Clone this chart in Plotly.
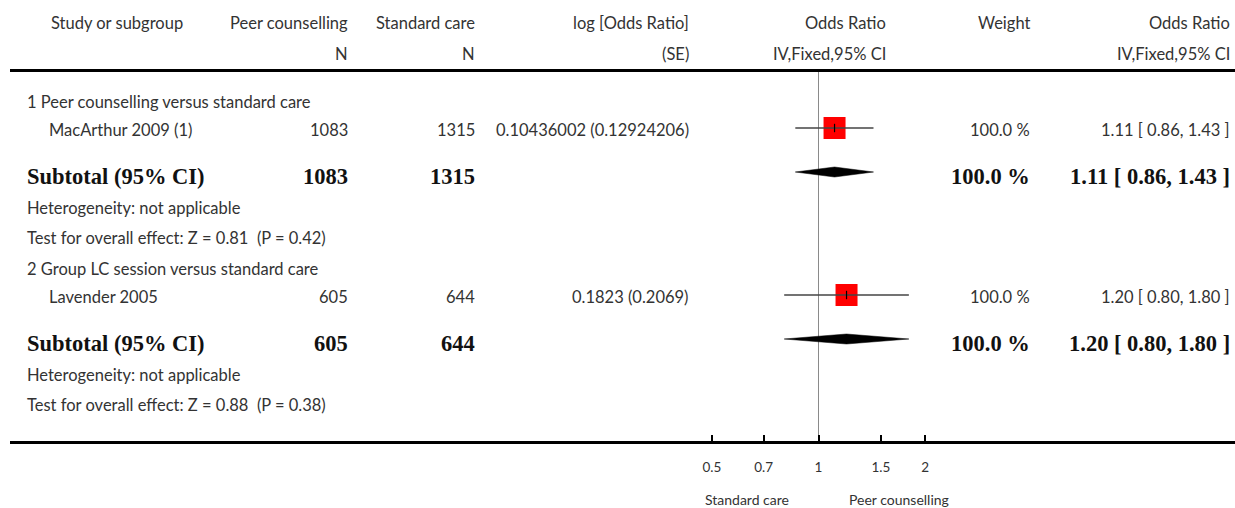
import math
import plotly.graph_objects as go

# ---- data -------------------------------------------------------------
subgroups = ["1 Peer counselling versus standard care",
             "2 Group LC session versus standard care"]
studies = ["MacArthur 2009 (1)", "Lavender 2005"]
n_peer = [1083, 605]
n_std = [1315, 644]
log_or = ["0.10436002", "0.1823"]
log_se = ["0.12924206", "0.2069"]
weight = [100.0, 100.0]
odds_ratio = [1.11, 1.20]
ci_low = [0.86, 0.80]
ci_high = [1.43, 1.80]
z_value = [0.81, 0.88]
p_value = [0.42, 0.38]
tick_vals = [0.5, 0.7, 1, 1.5, 2]
tick_text = ["0.5", "0.7", "1", "1.5", "2"]

# ---- layout constants (pixels) ----------------------------------------
W, H = 1235, 508
PLOT_TOP, PLOT_BOTTOM = 72, 441
X_LEFT = 10
X_ONE = 818.5          # pixel position of OR = 1
PX_PER_DECADE = 354.0
BLOCK_START = [102, 269]
ROW_OFFSETS = [0, 28, 74, 106, 136]   # subgroup, study, subtotal, heterogeneity, test

SANS = "Lato"
SERIF = "Liberation Serif"
TXT = "#333333"
BOLD = "#111111"
FS = 16.5
FB = 22.5


def px(x):
    return x / W


def py(y):
    return 1 - y / H


fig = go.Figure()
ann = []


def text(x, y, s, anchor="left", size=FS, family=SANS, color=TXT, yref="y"):
    # compensate annotation box padding so the glyph edges land on x
    shift = {"left": -2, "right": 2, "center": 0}[anchor]
    ann.append(dict(x=px(x + shift), y=(y if yref == "y" else py(y)), xref="paper", yref=yref,
                    text=s, showarrow=False, xanchor=anchor, yanchor="middle",
                    font=dict(family=family, size=size, color=color)))


# header
for x, top, bottom in [(117, "Study or subgroup", None),
                       (348, "Peer counselling", "N"),
                       (475, "Standard care", "N"),
                       (689, "log [Odds Ratio]", "(SE)"),
                       (886, "Odds Ratio", "IV,Fixed,95% CI"),
                       (1030, "Weight", None),
                       (1230, "Odds Ratio", "IV,Fixed,95% CI")]:
    anchor = "center" if x == 117 else "right"
    text(x, 23, top, anchor, yref="paper")
    if bottom:
        text(x, 54, bottom, anchor, yref="paper")

# reference line at OR = 1
fig.add_trace(go.Scatter(x=[1, 1], y=[PLOT_TOP, PLOT_BOTTOM], mode="lines",
                         line=dict(color="#8a8a8a", width=1), hoverinfo="skip"))

for i in range(len(studies)):
    rows = [BLOCK_START[i] + o for o in ROW_OFFSETS]
    y_sub, y_study, y_tot, y_het, y_test = rows
    or_txt = f"{odds_ratio[i]:.2f} [ {ci_low[i]:.2f}, {ci_high[i]:.2f} ]"
    w_txt = f"{weight[i]:.1f} %"

    text(27, y_sub, subgroups[i])
    text(49, y_study, studies[i])
    text(348, y_study, str(n_peer[i]), "right")
    text(475, y_study, str(n_std[i]), "right")
    text(689, y_study, f"{log_or[i]} ({log_se[i]})", "right")
    text(1030, y_study, w_txt, "right")
    text(1230, y_study, or_txt, "right")

    text(27, y_tot, "<b>Subtotal (95% CI)</b>", size=FB, family=SERIF, color=BOLD)
    text(348, y_tot, f"<b>{n_peer[i]}</b>", "right", size=FB, family=SERIF, color=BOLD)
    text(475, y_tot, f"<b>{n_std[i]}</b>", "right", size=FB, family=SERIF, color=BOLD)
    text(1030, y_tot, f"<b>{w_txt}</b>", "right", size=FB, family=SERIF, color=BOLD)
    text(1230, y_tot, f"<b>{or_txt}</b>", "right", size=FB, family=SERIF, color=BOLD)

    text(27, y_het, "Heterogeneity: not applicable")
    text(27, y_test, f"Test for overall effect: Z = {z_value[i]:.2f}  (P = {p_value[i]:.2f})")

    ym = y_study - 2
    # study square (weight) with CI whisker on top
    fig.add_trace(go.Scatter(x=[odds_ratio[i]], y=[ym], mode="markers",
                             marker=dict(symbol="square", size=22, color="#ff0000",
                                         line=dict(width=0)), hoverinfo="skip"))
    fig.add_trace(go.Scatter(x=[ci_low[i], ci_high[i]], y=[ym, ym], mode="lines",
                             line=dict(color="#444444", width=1.5), hoverinfo="skip"))
    fig.add_trace(go.Scatter(x=[odds_ratio[i]], y=[ym], mode="markers",
                             marker=dict(symbol="line-ns", size=6,
                                         line=dict(color="#000000", width=1.2)),
                             hoverinfo="skip"))
    # pooled diamond
    yd = y_tot - 4
    fig.add_trace(go.Scatter(x=[ci_low[i], odds_ratio[i], ci_high[i], odds_ratio[i], ci_low[i]],
                             y=[yd, yd - 5, yd, yd + 5, yd], mode="lines", fill="toself",
                             fillcolor="#000000", line=dict(color="#000000", width=0.5),
                             hoverinfo="skip"))

text(747, 499, "Standard care", "center", size=14, yref="paper")
text(899, 499, "Peer counselling", "center", size=14, yref="paper")

x_lo = (X_LEFT - X_ONE) / PX_PER_DECADE
x_hi = (W - X_ONE) / PX_PER_DECADE

fig.update_layout(
    width=W, height=H, margin=dict(l=0, r=0, t=0, b=0),
    paper_bgcolor="white", plot_bgcolor="white", showlegend=False,
    annotations=ann,
    xaxis=dict(type="log", domain=[px(X_LEFT), 1], range=[x_lo, x_hi],
               showgrid=False, zeroline=False, showline=True, mirror=True,
               linecolor="#000000", linewidth=3,
               ticks="inside", ticklen=6, tickwidth=2, tickcolor="#000000",
               tickvals=tick_vals, ticktext=tick_text, ticklabelstandoff=12,
               tickfont=dict(family=SANS, size=13.5, color=TXT)),
    yaxis=dict(domain=[1 - PLOT_BOTTOM / H, 1 - PLOT_TOP / H],
               range=[PLOT_BOTTOM, PLOT_TOP], visible=False),
)

fig.write_html("out.html")
